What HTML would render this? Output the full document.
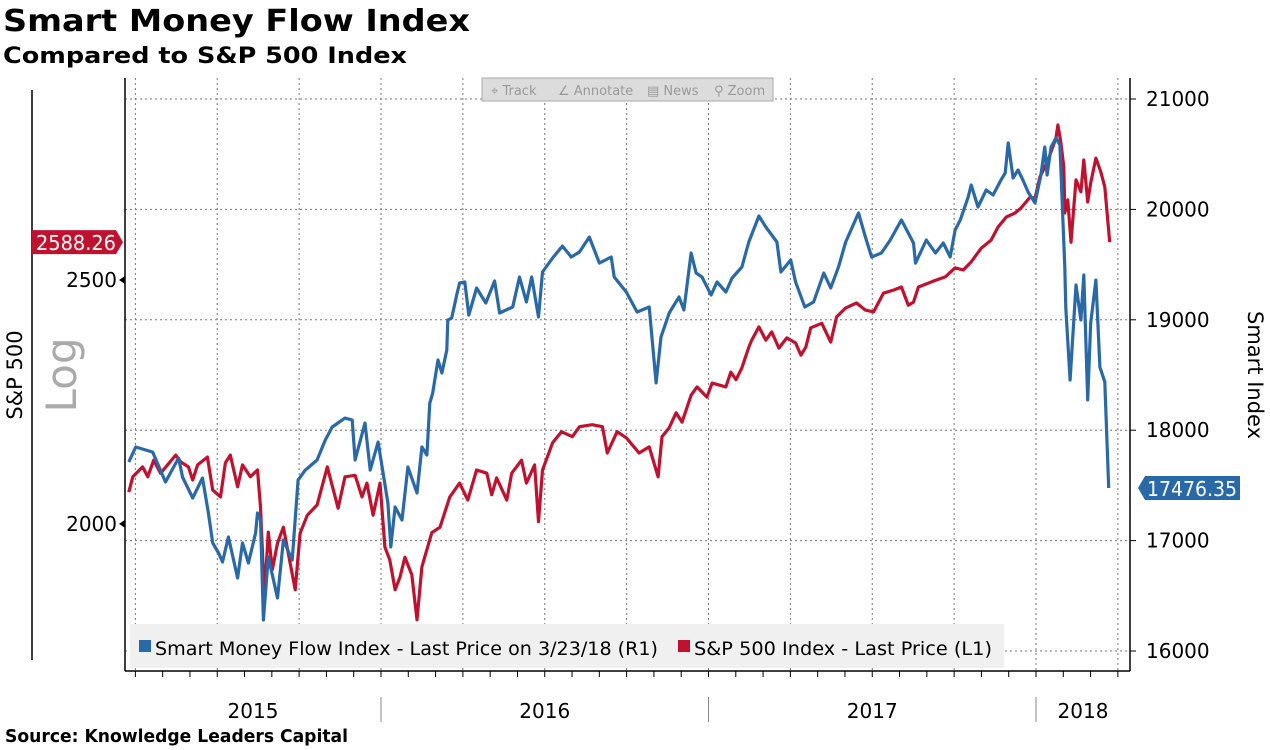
<!DOCTYPE html>
<html><head><meta charset="utf-8"><style>
body{margin:0;background:#fff;width:1270px;height:746px;overflow:hidden;font-family:"DejaVu Sans","Liberation Sans",sans-serif}
svg text{font-family:"DejaVu Sans","Liberation Sans",sans-serif}
</style></head><body>
<svg id="chart" width="1270" height="746" viewBox="0 0 1270 746" xmlns="http://www.w3.org/2000/svg">
<text x="3" y="31" font-size="30" font-weight="bold" textLength="467" lengthAdjust="spacingAndGlyphs">Smart Money Flow Index</text>
<text x="3" y="63" font-size="22" font-weight="bold" textLength="404" lengthAdjust="spacingAndGlyphs">Compared to S&amp;P 500 Index</text>
<text x="5" y="742" font-size="18" font-weight="bold" textLength="343" lengthAdjust="spacingAndGlyphs">Source: Knowledge Leaders Capital</text>
<g id="grid"></g>
<g id="axes"></g>
<g id="series"></g>
<g>
<rect x="482" y="78" width="291" height="23" fill="#dcdcdc" stroke="#aaa"/>
<text x="491" y="95" font-size="13" fill="#999">⌖ Track</text>
<text x="558" y="95" font-size="13" fill="#999">∠ Annotate</text>
<text x="647" y="95" font-size="13" fill="#999">▤ News</text>
<text x="714" y="95" font-size="13" fill="#999">⚲ Zoom</text>
</g>
<g>
<rect x="130" y="624" width="874" height="44" fill="#f0f0f0"/>
<rect x="139" y="640" width="12" height="12" fill="#2a69a8"/>
<text x="155" y="655" font-size="19" textLength="503" lengthAdjust="spacingAndGlyphs">Smart Money Flow Index - Last Price on 3/23/18 (R1)</text>
<rect x="678" y="640" width="12" height="12" fill="#c0122e"/>
<text x="694" y="655" font-size="19" textLength="298" lengthAdjust="spacingAndGlyphs">S&amp;P 500 Index - Last Price (L1)</text>
</g>
<text transform="translate(22,375) rotate(-90)" text-anchor="middle" font-size="21">S&amp;P 500</text>
<text transform="translate(76,375) rotate(-90)" text-anchor="middle" font-size="42" fill="#aaa">Log</text>
<text transform="translate(1248,375) rotate(90)" text-anchor="middle" font-size="21">Smart Index</text>
<g id="tags"></g>
</svg>
<script>
const smartDates=[2015.230,2015.251,2015.303,2015.342,2015.382,2015.394,2015.425,2015.455,2015.473,2015.486,2015.504,2015.516,2015.534,2015.562,2015.577,2015.595,2015.617,2015.623,2015.632,2015.641,2015.656,2015.684,2015.702,2015.729,2015.747,2015.769,2015.805,2015.830,2015.851,2015.890,2015.912,2015.921,2015.951,2015.967,2015.991,2016.021,2016.030,2016.043,2016.064,2016.082,2016.110,2016.125,2016.140,2016.149,2016.158,2016.174,2016.186,2016.201,2016.204,2016.216,2016.231,2016.240,2016.256,2016.268,2016.292,2016.320,2016.347,2016.362,2016.402,2016.423,2016.444,2016.460,2016.481,2016.493,2016.524,2016.554,2016.581,2016.606,2016.636,2016.667,2016.703,2016.712,2016.749,2016.782,2016.819,2016.840,2016.855,2016.880,2016.910,2016.925,2016.947,2016.962,2016.980,2017.008,2017.026,2017.053,2017.072,2017.102,2017.123,2017.154,2017.175,2017.209,2017.221,2017.251,2017.266,2017.294,2017.321,2017.352,2017.373,2017.397,2017.419,2017.458,2017.479,2017.498,2017.528,2017.555,2017.589,2017.626,2017.632,2017.665,2017.693,2017.717,2017.738,2017.753,2017.769,2017.793,2017.802,2017.823,2017.848,2017.869,2017.893,2017.906,2017.915,2017.930,2017.945,2017.960,2017.976,2017.997,2018.015,2018.027,2018.034,2018.046,2018.061,2018.073,2018.088,2018.091,2018.104,2018.122,2018.137,2018.146,2018.158,2018.167,2018.183,2018.195,2018.210,2018.222];
const smartValues=[17712,17848,17802,17531,17748,17576,17386,17567,17250,16978,16888,16806,17033,16661,16978,16797,17069,17250,17187,16281,16851,16480,17005,16824,17549,17639,17730,17911,18029,18110,18092,17730,18065,17639,17893,17341,16942,17304,17187,17667,17431,17848,17775,18246,18337,18636,18518,18726,18998,19016,19225,19333,19342,19043,19288,19152,19351,19062,19116,19388,19161,19388,19025,19433,19560,19668,19569,19614,19750,19514,19569,19388,19252,19071,19116,18428,18844,19062,19207,19089,19605,19424,19388,19225,19342,19252,19379,19478,19705,19940,19841,19705,19433,19542,19342,19116,19161,19424,19288,19478,19705,19967,19750,19569,19605,19723,19904,19696,19514,19723,19605,19696,19569,19813,19904,20112,20221,20022,20176,20130,20266,20330,20601,20284,20357,20266,20158,20058,20312,20565,20312,20565,20647,20583,19478,19107,18455,19315,18998,19406,18274,18971,19360,18572,18437,17476.35];
const spxDates=[2015.230,2015.242,2015.272,2015.288,2015.306,2015.327,2015.373,2015.388,2015.412,2015.425,2015.440,2015.470,2015.486,2015.510,2015.525,2015.540,2015.562,2015.577,2015.601,2015.623,2015.632,2015.644,2015.656,2015.668,2015.684,2015.702,2015.717,2015.738,2015.753,2015.775,2015.805,2015.836,2015.869,2015.890,2015.921,2015.942,2015.957,2015.976,2015.997,2016.012,2016.027,2016.043,2016.058,2016.073,2016.094,2016.110,2016.125,2016.155,2016.180,2016.210,2016.240,2016.265,2016.292,2016.323,2016.338,2016.353,2016.384,2016.399,2016.429,2016.444,2016.469,2016.481,2016.493,2016.524,2016.551,2016.584,2016.606,2016.645,2016.676,2016.691,2016.721,2016.749,2016.788,2016.819,2016.846,2016.858,2016.880,2016.901,2016.919,2016.947,2016.965,2016.995,2017.011,2017.053,2017.068,2017.084,2017.102,2017.123,2017.132,2017.154,2017.175,2017.193,2017.215,2017.239,2017.266,2017.282,2017.297,2017.312,2017.346,2017.373,2017.391,2017.419,2017.452,2017.479,2017.504,2017.534,2017.565,2017.589,2017.610,2017.626,2017.641,2017.671,2017.696,2017.723,2017.753,2017.778,2017.802,2017.833,2017.863,2017.884,2017.909,2017.936,2017.954,2017.982,2017.997,2018.012,2018.037,2018.061,2018.067,2018.076,2018.085,2018.088,2018.097,2018.107,2018.122,2018.137,2018.146,2018.158,2018.167,2018.183,2018.198,2018.210,2018.225];
const spxValues=[2059,2088,2107,2088,2120,2095,2130,2117,2107,2082,2111,2126,2063,2050,2115,2130,2069,2111,2088,2101,2031,1871,1985,1918,1965,1994,1947,1883,1983,2016,2035,2107,2029,2088,2091,2050,2076,2016,2076,1958,1935,1883,1905,1940,1909,1832,1923,1984,1994,2050,2076,2044,2101,2095,2054,2086,2044,2095,2120,2076,2111,2004,2101,2154,2176,2166,2186,2190,2186,2134,2176,2164,2134,2146,2088,2166,2184,2214,2195,2250,2267,2246,2275,2267,2298,2282,2307,2351,2366,2395,2366,2384,2349,2371,2360,2334,2351,2393,2403,2362,2417,2437,2448,2432,2428,2470,2477,2484,2443,2450,2484,2493,2500,2507,2528,2523,2542,2574,2593,2624,2648,2658,2670,2697,2694,2747,2790,2847,2881,2834,2772,2658,2690,2588,2740,2710,2790,2685,2732,2795,2760,2722,2588.26];
const rightTicks=[16000,17000,18000,19000,20000,21000];
const leftTicks=[2000,2500];
const yearLabels=["2015","2016","2017","2018"];
const yearStarts=[2015,2016,2017,2018];

const NS="http://www.w3.org/2000/svg";
const PL=125,PR=1130,PT=78,PB=671;
function xS(t){return 381+(t-2016)*327.5;}
function yR(v){return 99+(21000-v)*0.11040;}
function yL(v){return 280-1093*Math.log(v/2500);}
function mk(tag,attrs,parent){const e=document.createElementNS(NS,tag);for(const k in attrs)e.setAttribute(k,attrs[k]);parent.appendChild(e);return e;}
const grid=document.getElementById('grid'),axes=document.getElementById('axes'),series=document.getElementById('series'),tags=document.getElementById('tags');

rightTicks.forEach(v=>{
  const y=yR(v);
  const g=mk('line',{x1:PL,x2:PR,y1:y,y2:y,stroke:'#777','stroke-dasharray':'2,3','stroke-width':1},grid);
  
  
  mk('line',{x1:PR,x2:PR+6,y1:y,y2:y,stroke:'#000'},axes);
  const tx=mk('text',{x:PR+16,y:y+7,'font-size':20},axes);
  tx.textContent=v;
  
  
});
leftTicks.forEach(v=>{
  const y=yL(v);
  mk('polygon',{points:`${PL},${y-4} ${PL-6},${y} ${PL},${y+4}`,fill:'#000'},axes);
  const tx=mk('text',{x:PL-8,y:y+7,'font-size':20,'text-anchor':'end'},axes);
  tx.textContent=v;
  
  
});
for(let m=0;m<=37;m++){
  const t=2015.25+m/12; const x=xS(t);
  if(x<PL||x>PR)continue;
  mk('line',{x1:x,x2:x,y1:PB,y2:PB+6,stroke:'#000'},axes);
  if(m%3===0){
    const l=mk('line',{x1:x,x2:x,y1:PT,y2:PB,stroke:'#777','stroke-dasharray':'2,3'},grid);
    
    
  }
}
mk('line',{x1:PL,x2:PL,y1:PT,y2:PB,stroke:'#000','stroke-width':1.5},axes);
mk('line',{x1:PR,x2:PR,y1:PT,y2:PB,stroke:'#000','stroke-width':1.5},axes);
mk('line',{x1:PL,x2:PR,y1:PB,y2:PB,stroke:'#000','stroke-width':1.5},axes);
mk('line',{x1:32,x2:32,y1:90,y2:660,stroke:'#000','stroke-width':1.5},axes);
yearLabels.forEach((lab,i)=>{
  const a=Math.max(xS(yearStarts[i]),PL),b=Math.min(xS(yearStarts[i]+1),PR);
  const tx=mk('text',{x:(a+b)/2,y:718,'font-size':20,'text-anchor':'middle'},axes);
  tx.textContent=lab;
  
  
  if(i>0){mk('line',{x1:xS(yearStarts[i]),x2:xS(yearStarts[i]),y1:697,y2:722,stroke:'#888'},axes);}
});
function path(d,v,f){return d.map((t,i)=>(i?'L':'M')+xS(t).toFixed(1)+','+f(v[i]).toFixed(1)).join(' ');}
const sp=mk('path',{d:path(spxDates,spxValues,yL),fill:'none',stroke:'#c0122e','stroke-width':3.2,'stroke-linejoin':'round'},series);


const sm=mk('path',{d:path(smartDates,smartValues,yR),fill:'none',stroke:'#2a69a8','stroke-width':3.2,'stroke-linejoin':'round'},series);


const ly=yL(spxValues[spxValues.length-1]);
const rt=mk('polygon',{points:`32,${ly-12} 116,${ly-12} 123,${ly} 116,${ly+12} 32,${ly+12}`,fill:'#c0122e'},tags);


const rtt=mk('text',{x:36,y:ly+8,'font-size':20,fill:'#fff',textLength:80,lengthAdjust:'spacingAndGlyphs'},tags);rtt.textContent=spxValues[spxValues.length-1].toFixed(2);
const by=yR(smartValues[smartValues.length-1]);
const bt=mk('polygon',{points:`1138,${by} 1145,${by-12} 1240,${by-12} 1240,${by+12} 1145,${by+12}`,fill:'#2a69a8'},tags);


const btt=mk('text',{x:1147,y:by+8,'font-size':20,fill:'#fff',textLength:90,lengthAdjust:'spacingAndGlyphs'},tags);btt.textContent=smartValues[smartValues.length-1].toFixed(2);
</script>
</body></html>
